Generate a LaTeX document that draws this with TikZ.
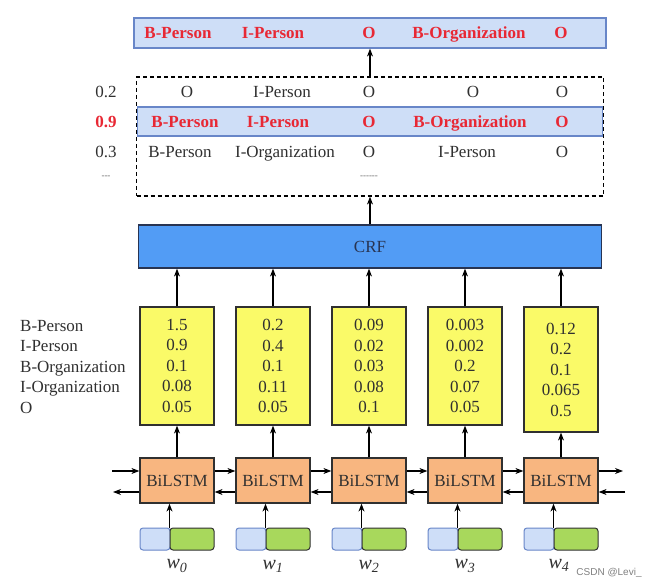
\documentclass[tikz,border=0pt]{standalone}
\usepackage{fontspec}
\setmainfont{Liberation Serif}
\setsansfont{Liberation Sans}
\usepackage{xcolor}
\definecolor{tagred}{RGB}{232,40,52}
\definecolor{rowblue}{RGB}{206,222,247}
\definecolor{rowedge}{RGB}{104,134,200}
\definecolor{crfblue}{RGB}{82,156,245}
\definecolor{crfink}{RGB}{40,52,82}
\definecolor{scoreyellow}{RGB}{250,250,104}
\definecolor{lstmorange}{RGB}{248,182,128}
\definecolor{embblue}{RGB}{206,222,248}
\definecolor{embgreen}{RGB}{168,216,92}
\definecolor{inkgray}{RGB}{48,48,48}
\usepackage{tikz}
\usetikzlibrary{arrows.meta, positioning}

\tikzset{
  lbl/.style={font=\fontsize{17}{20.5}\selectfont, text=inkgray, inner sep=0pt,
    text height=11.5pt, text depth=0pt},
  tag/.style={font=\fontsize{17}{20.5}\selectfont\bfseries, text=tagred, inner sep=0pt,
    text height=11.5pt, text depth=0pt},
  names/.style={font=\fontsize{17}{20.5}\selectfont, text=inkgray, inner sep=0pt, align=left},
  tagrow/.style={draw=rowedge, fill=rowblue, line width=1.2pt, inner sep=0pt},
  crfbox/.style={draw=crfink, fill=crfblue, line width=1.2pt, text=crfink,
    font=\fontsize{17}{20.5}\selectfont},
  score/.style={draw=inkgray, fill=scoreyellow, line width=1.2pt, align=center,
    minimum width=74pt, minimum height=118pt, inner sep=0pt,
    font=\fontsize{17}{20.5}\selectfont, text=inkgray},
  lstm/.style={draw=inkgray, fill=lstmorange, line width=1.2pt, text=inkgray,
    minimum width=74pt, minimum height=45pt, inner sep=0pt,
    font=\fontsize{17}{20.5}\selectfont},
  embl/.style={draw=rowedge, fill=embblue, line width=1pt, rounded corners=3pt,
    minimum width=30pt, minimum height=22pt, inner sep=0pt},
  embr/.style={draw=inkgray, fill=embgreen, line width=1pt, rounded corners=3pt,
    minimum width=44pt, minimum height=22pt, inner sep=0pt},
  word/.style={font=\fontsize{20}{20}\selectfont\itshape, text=inkgray, inner sep=0pt},
  dots/.style={font=\fontsize{9}{9}\selectfont, text=black!60, inner sep=0pt},
  arr/.style={-{Stealth[length=8pt,width=6pt]}, line width=1.2pt},
  credit/.style={font=\sffamily\fontsize{10}{10}\selectfont, text=gray, inner sep=0pt}
}

\begin{document}
\begin{tikzpicture}[x=1pt, y=-1pt]
  \useasboundingbox (0,0) rectangle (657,588);

  % --- Decoded best path ---
  \node[tagrow, minimum width=472pt, minimum height=30pt] (best) at (370,33) {};
  \node[tag] (b1) at (178,33) {B-Person};
  \node[tag] (b2) at (273,33) {I-Person};
  \node[tag] (b3) at (369,33) {O};
  \node[tag] (b4) at (469,33) {B-Organization};
  \node[tag] (b5) at (561,33) {O};

  % --- Candidate paths with scores ---
  \node[draw, line width=1.2pt, dash pattern=on 4pt off 3pt,
    minimum width=467pt, minimum height=119pt] (cand) at (370,136.5) {};
  \node[tagrow, minimum width=465pt, minimum height=29pt] (hi) at (370,121.5) {};
  \node[lbl] (p11) at (187,92) {O};
  \node[lbl] (p12) at (282,92) {I-Person};
  \node[lbl] (p13) at (369,92) {O};
  \node[lbl] (p14) at (473,92) {O};
  \node[lbl] (p15) at (562,92) {O};
  \node[tag] (p21) at (185,122) {B-Person};
  \node[tag] (p22) at (278,122) {I-Person};
  \node[tag] (p23) at (369,122) {O};
  \node[tag] (p24) at (470,122) {B-Organization};
  \node[tag] (p25) at (562,122) {O};
  \node[lbl] (p31) at (180,152) {B-Person};
  \node[lbl] (p32) at (285,152) {I-Organization};
  \node[lbl] (p33) at (369,152) {O};
  \node[lbl] (p34) at (467,152) {I-Person};
  \node[lbl] (p35) at (562,152) {O};
  \node[dots] (pmore) at (369,177) {-{}-{}-{}-{}-{}-};
  \node[lbl] (s1) at (106,92) {0.2};
  \node[tag] (s2) at (106,122) {0.9};
  \node[lbl] (s3) at (106,152) {0.3};
  \node[dots] (s4) at (106,177) {-{}-{}-};

  % --- CRF layer ---
  \node[crfbox, minimum width=463pt, minimum height=43pt] (crf) at (370,246.5) {CRF};

  % --- Emission scores ---
  \node[names, anchor=west] (tagnames) at (20,367)
    {B-Person\\I-Person\\B-Organization\\I-Organization\\O};
  \node[score] (sc1) at (177,366) {1.5\\0.9\\0.1\\0.08\\0.05};
  \node[score] (sc2) at (273,366) {0.2\\0.4\\0.1\\0.11\\0.05};
  \node[score] (sc3) at (369,366) {0.09\\0.02\\0.03\\0.08\\0.1};
  \node[score] (sc4) at (465,366) {0.003\\0.002\\0.2\\0.07\\0.05};
  \node[score, minimum height=125pt] (sc5) at (561,369.5) {0.12\\0.2\\0.1\\0.065\\0.5};

  % --- BiLSTM layer ---
  \node[lstm] (l1) at (177,480.5) {BiLSTM};
  \node[lstm] (l2) at (273,480.5) {BiLSTM};
  \node[lstm] (l3) at (369,480.5) {BiLSTM};
  \node[lstm] (l4) at (465,480.5) {BiLSTM};
  \node[lstm] (l5) at (561,480.5) {BiLSTM};

  % --- Word embeddings ---
  \node[embl] (c1) at (155,539) {};
  \node[embr] (e1) at (192,539) {};
  \node[embl] (c2) at (251,539) {};
  \node[embr] (e2) at (288,539) {};
  \node[embl] (c3) at (347,539) {};
  \node[embr] (e3) at (384,539) {};
  \node[embl] (c4) at (443,539) {};
  \node[embr] (e4) at (480,539) {};
  \node[embl] (c5) at (539,539) {};
  \node[embr] (e5) at (576,539) {};
  \node[word] (w1) at (177,566) {w\textsubscript{0}};
  \node[word] (w2) at (273,566) {w\textsubscript{1}};
  \node[word] (w3) at (369,566) {w\textsubscript{2}};
  \node[word] (w4) at (465,566) {w\textsubscript{3}};
  \node[word] (w5) at (559,565) {w\textsubscript{4}};

  % Arrows up the stack
  \draw[arr] (cand.north) -- (best.south);
  \draw[arr] (crf.north) -- (cand.south);
  \draw[arr] (sc1.north) -- (sc1.north |- crf.south);
  \draw[arr] (sc2.north) -- (sc2.north |- crf.south);
  \draw[arr] (sc3.north) -- (sc3.north |- crf.south);
  \draw[arr] (sc4.north) -- (sc4.north |- crf.south);
  \draw[arr] (sc5.north) -- (sc5.north |- crf.south);
  \draw[arr] (l1.north) -- (sc1.south);
  \draw[arr] (l2.north) -- (sc2.south);
  \draw[arr] (l3.north) -- (sc3.south);
  \draw[arr] (l4.north) -- (sc4.south);
  \draw[arr] (l5.north) -- (sc5.south);
  \draw[arr] (e1.north west) -- (e1.north west |- l1.south);
  \draw[arr] (e2.north west) -- (e2.north west |- l2.south);
  \draw[arr] (e3.north west) -- (e3.north west |- l3.south);
  \draw[arr] (e4.north west) -- (e4.north west |- l4.south);
  \draw[arr] (e5.north west) -- (e5.north west |- l5.south);

  % Forward and backward passes
  \coordinate (fin) at (112,471);
  \coordinate (fout) at (623,471);
  \coordinate (bin) at (625,492);
  \coordinate (bout) at (113,492);
  \draw[arr] (fin) -- ([yshift=9.5pt]l1.west);
  \draw[arr] ([yshift=9.5pt]l1.east) -- ([yshift=9.5pt]l2.west);
  \draw[arr] ([yshift=9.5pt]l2.east) -- ([yshift=9.5pt]l3.west);
  \draw[arr] ([yshift=9.5pt]l3.east) -- ([yshift=9.5pt]l4.west);
  \draw[arr] ([yshift=9.5pt]l4.east) -- ([yshift=9.5pt]l5.west);
  \draw[arr] ([yshift=9.5pt]l5.east) -- (fout);
  \draw[arr] (bin) -- ([yshift=-11.5pt]l5.east);
  \draw[arr] ([yshift=-11.5pt]l5.west) -- ([yshift=-11.5pt]l4.east);
  \draw[arr] ([yshift=-11.5pt]l4.west) -- ([yshift=-11.5pt]l3.east);
  \draw[arr] ([yshift=-11.5pt]l3.west) -- ([yshift=-11.5pt]l2.east);
  \draw[arr] ([yshift=-11.5pt]l2.west) -- ([yshift=-11.5pt]l1.east);
  \draw[arr] ([yshift=-11.5pt]l1.west) -- (bout);

  \node[credit] (wm) at (609,573) {CSDN @Levi\_};
\end{tikzpicture}
\end{document}
